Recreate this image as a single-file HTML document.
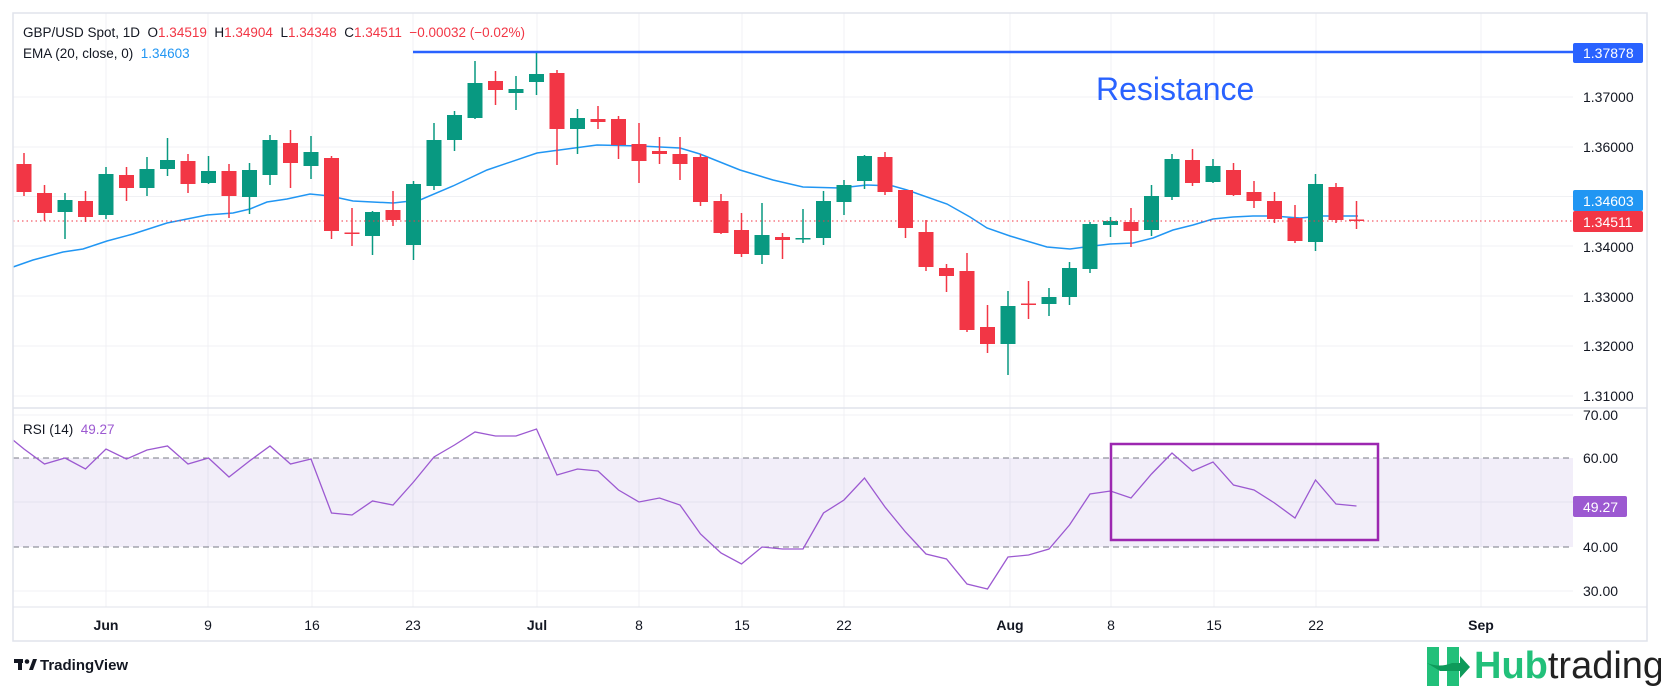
<!DOCTYPE html>
<html><head><meta charset="utf-8">
<style>
html,body{margin:0;padding:0;background:#fff;}
body{width:1661px;height:686px;overflow:hidden;font-family:"Liberation Sans",sans-serif;}
svg text{font-family:"Liberation Sans",sans-serif;}
</style></head>
<body>
<svg id="c" width="1661" height="686" viewBox="0 0 1661 686" xmlns="http://www.w3.org/2000/svg">
<rect x="0" y="0" width="1661" height="686" fill="#fff"/>
<g id="grid"></g>
<rect x="13" y="458" width="1560" height="89" fill="#7e57c2" fill-opacity="0.1"/>
<line x1="13" y1="458" x2="1573" y2="458" stroke="#787b86" stroke-dasharray="6,4"/>
<line x1="13" y1="547" x2="1573" y2="547" stroke="#787b86" stroke-dasharray="6,4"/>
<line x1="413" y1="52" x2="1573" y2="52" stroke="#2962ff" stroke-width="2.5"/>
<text x="1096" y="100" font-size="32" fill="#2962ff">Resistance</text>
<polyline id="ema" fill="none" stroke="#2196f3" stroke-width="1.5"/>
<g id="candles"></g>
<line x1="13" y1="221" x2="1573" y2="221" stroke="#f23645" stroke-dasharray="1.5,3"/>
<polyline id="rsi" fill="none" stroke="#9c59d1" stroke-width="1.3"/>
<rect x="1111" y="444" width="267" height="96" fill="none" stroke="#9c27b0" stroke-width="2.5"/>
<!-- frame -->
<rect x="13" y="13" width="1634" height="628" fill="none" stroke="#e0e3eb" stroke-width="1.5"/>
<line x1="13" y1="408" x2="1647" y2="408" stroke="#e0e3eb" stroke-width="1.5"/>
<line x1="13" y1="607" x2="1647" y2="607" stroke="#e0e3eb" stroke-width="1"/>
<!-- price axis -->
<g font-size="14" fill="#131722">
<text x="1583" y="102">1.37000</text>
<text x="1583" y="152">1.36000</text>
<text x="1583" y="252">1.34000</text>
<text x="1583" y="302">1.33000</text>
<text x="1583" y="351">1.32000</text>
<text x="1583" y="401">1.31000</text>
<text x="1583" y="420">70.00</text>
<text x="1583" y="463">60.00</text>
<text x="1583" y="552">40.00</text>
<text x="1583" y="596">30.00</text>
</g>
<rect x="1573" y="43" width="70" height="20" rx="2" fill="#2962ff"/>
<text x="1583" y="58" font-size="14" fill="#fff">1.37878</text>
<rect x="1573" y="190" width="70" height="21" rx="2" fill="#2196f3"/>
<text x="1583" y="206" font-size="14" fill="#fff">1.34603</text>
<rect x="1573" y="211" width="70" height="21" rx="2" fill="#f23645"/>
<text x="1583" y="227" font-size="14" fill="#fff">1.34511</text>
<rect x="1573" y="496" width="54" height="21" rx="2" fill="#9c59d1"/>
<text x="1583" y="512" font-size="14" fill="#fff">49.27</text>
<!-- date axis -->
<g font-size="14" fill="#131722" text-anchor="middle">
<text x="106" y="630" font-weight="bold">Jun</text>
<text x="208" y="630">9</text>
<text x="312" y="630">16</text>
<text x="413" y="630">23</text>
<text x="537" y="630" font-weight="bold">Jul</text>
<text x="639" y="630">8</text>
<text x="742" y="630">15</text>
<text x="844" y="630">22</text>
<text x="1010" y="630" font-weight="bold">Aug</text>
<text x="1111" y="630">8</text>
<text x="1214" y="630">15</text>
<text x="1316" y="630">22</text>
<text x="1481" y="630" font-weight="bold">Sep</text>
</g>
<!-- legends -->
<text x="23" y="37" font-size="13.5" fill="#131722">GBP/USD Spot, 1D&#160;&#160;O<tspan fill="#f23645">1.34519</tspan>&#160;&#160;H<tspan fill="#f23645">1.34904</tspan>&#160;&#160;L<tspan fill="#f23645">1.34348</tspan>&#160;&#160;C<tspan fill="#f23645">1.34511</tspan>&#160;&#160;<tspan fill="#f23645">−0.00032 (−0.02%)</tspan></text>
<text x="23" y="58" font-size="13.5" fill="#131722">EMA (20, close, 0)&#160;&#160;<tspan fill="#2196f3">1.34603</tspan></text>
<text x="23" y="434" font-size="13.5" fill="#131722">RSI (14)&#160;&#160;<tspan fill="#9c59d1">49.27</tspan></text>
<!-- TradingView logo -->
<g fill="#131722">
<rect x="14" y="659" width="9" height="4"/>
<rect x="18" y="659" width="4" height="11"/>
<circle cx="27" cy="661.5" r="2.3"/>
<polygon points="29,670 33,659 37,659 33,670"/>
<text x="40" y="670" font-size="15" font-weight="bold">TradingView</text>
</g>
<!-- Hubtrading logo -->
<g>
<rect x="1427" y="647" width="12" height="39" fill="#22c07a"/>
<rect x="1447" y="647" width="12" height="39" fill="#22c07a"/>
<path d="M1427 663 Q1440 668 1452 663 L1460 663 L1460 656 L1470 667 L1460 678 L1460 671 L1440 671 Z" fill="#0e9a5a"/>
<text x="1474" y="678" font-size="38" fill="#22c07a" font-weight="bold">Hub<tspan fill="#222" font-weight="normal">trading</tspan></text>
</g>
</svg>
<script>
var NS="http://www.w3.org/2000/svg";
function el(t,a,p){var e=document.createElementNS(NS,t);for(var k in a)e.setAttribute(k,a[k]);p.appendChild(e);return e;}
var g=document.getElementById('grid');
[97,147,196.5,246,296,346,396].forEach(function(y){el('line',{x1:13,x2:1573,y1:y,y2:y,stroke:'#f0f1f4','stroke-width':1},g);});
[415,502,591].forEach(function(y){el('line',{x1:13,x2:1573,y1:y,y2:y,stroke:'#f0f1f4','stroke-width':1},g);});
[106,208,312,413,537,639,742,844,1010,1111,1214,1316,1481].forEach(function(x){el('line',{x1:x,x2:x,y1:13,y2:607,stroke:'#f0f1f4','stroke-width':1},g);});
var D=[
['r',164,192,153,196],['r',193,213,185,221],['g',200,212,193,239],['r',201,217,191,222],['g',174,215,167,219],
['r',175,188,167,201],['g',169,188,157,196],['g',160,169,138,176],['r',161,184,154,193],['g',171,183,156,184],
['r',171,196,164,218],['g',170,197,163,214],['g',140,175,135,185],['r',143,163,130,188],['g',152,166,136,179],
['r',158,231,156,239],['r',232.5,234,208,246],['g',212,236,211,255],['r',210,220,191,226],['g',184,245,181,260],
['g',140,186,123,190],['g',115,140,111,151],['g',83,118,61,119],['r',81,90,71,105],['g',89,93,76,110],
['g',74,82,53,95],['r',73,129,70,165],['g',118,129,109,154],['r',119,122,106,129],['r',119,145,116,159],
['r',144,161,123,183],['r',151,154,137,164],['r',154,164,137,180],['r',157,202,154,206],['r',201,233,194,234],
['r',230,254,213,257],['g',235,255,203,264],['r',237,240,233,259],['g',238,239.5,209,243],['g',201,238,191,245],
['g',185,202,180,215],['g',156,181,155,189],['r',157,192,152,195],['r',190,228,190,238],['r',232,267,220,271],
['r',268,276,264,292],['r',271,330,253,332],['r',327,344,305,353],['g',306,344,291,375],['r',303.5,305,281,319],
['g',297,304,288,316],['g',268,297,262,305],['g',224,269,222,273],['g',221,225,217,237],['r',222,231,208,247],
['g',196,230,185,236],['g',159,197,154,200],['r',160,183,149,186],['g',166,182,159,183],['r',170,195,163,196],
['r',192,201,181,208],['r',201,219,192,223],['r',218,241,205,243],['g',184,242,174,251],['r',187,220,183,223],
['r',219.5,221,201,229]];
var cg=document.getElementById('candles');
D.forEach(function(d,i){var x=24+20.5*i,c=d[0]=='g'?'#089981':'#f23645';
el('line',{x1:x,x2:x,y1:d[3],y2:d[4],stroke:c,'stroke-width':1.5},cg);
var h=Math.max(d[2]-d[1],1.5);
el('rect',{x:x-7.5,y:d[1],width:15,height:h,fill:c},cg);});
document.getElementById('ema').setAttribute('points',"13,267 33,260 63,252 83,249 107,241 133,234 167,223 207,215 233,213 250,209 267,202 287,199 310,194 330,196 353,201 393,203 420,200 453,186 487,170 537,153 597,145 640,146 680,148 700,154 740,170 773,180 803,187 840,188 867,185 893,186 907,190 947,204 970,217 987,228 1010,236 1047,247 1070,249 1093,246 1110,244 1133,243 1153,238 1173,230 1193,225 1213,219 1233,217 1253,216 1273,216 1300,218 1323,216 1358,216");
var R=[449,464,458,469,449,459,450,446,464,458,477,461,446,464,459,513,515,501,505,482,457,445,432,436,436,429,475,469,471,490,502,498,505,534,553,564,547,549,549,513,500,478,507,532,554,559,584,589,557,555,549,525,494,491,498,474,453,471,462,485,490,503,518,480,504,506];
var pts=["13,440"];R.forEach(function(y,i){pts.push((24+20.5*i)+","+y);});
document.getElementById('rsi').setAttribute('points',pts.join(" "));
</script>
</body></html>
